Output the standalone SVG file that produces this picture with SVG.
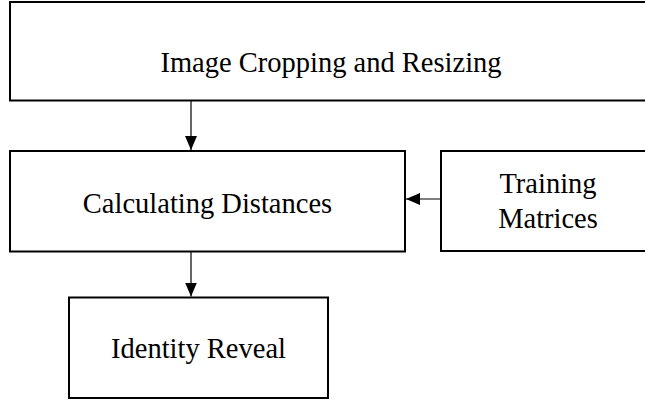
<svg xmlns="http://www.w3.org/2000/svg" width="645" height="400" viewBox="0 0 645 400">
<style>
.box{fill:#fff;stroke:#000;stroke-width:2}
.lbl{font-family:"Liberation Serif","Times New Roman",serif;font-size:28.5px;fill:#000;text-anchor:middle}
.conn{stroke:#000;stroke-width:1.2;fill:none}
</style>
<defs>
<marker id="ah" viewBox="0 0 14 12" refX="14" refY="6" markerWidth="14" markerHeight="12" markerUnits="userSpaceOnUse" orient="auto">
<path d="M0,0 L14,6 L0,12 Z" fill="#000"/>
</marker>
</defs>
<rect width="645" height="400" fill="#fff"/>
<g id="n1">
<rect class="box" x="10" y="2" width="645" height="98.5"/>
<text class="lbl" x="331" y="71.5">Image Cropping and Resizing</text>
</g>
<g id="n2">
<rect class="box" x="10" y="151" width="395" height="100.5"/>
<text class="lbl" x="207.5" y="213">Calculating Distances</text>
</g>
<g id="n3">
<rect class="box" x="441" y="151" width="214" height="100"/>
<text class="lbl" x="548" y="193">Training</text>
<text class="lbl" x="548" y="228">Matrices</text>
</g>
<g id="n4">
<rect class="box" x="69" y="297.5" width="259" height="100.5"/>
<text class="lbl" x="198.5" y="358">Identity Reveal</text>
</g>
<g id="connectors">
<line class="conn" x1="191" y1="101" x2="191" y2="150" marker-end="url(#ah)"/>
<line class="conn" x1="191" y1="252" x2="191" y2="296.5" marker-end="url(#ah)"/>
<line class="conn" x1="440" y1="199" x2="406" y2="199" marker-end="url(#ah)"/>
</g>
</svg>
